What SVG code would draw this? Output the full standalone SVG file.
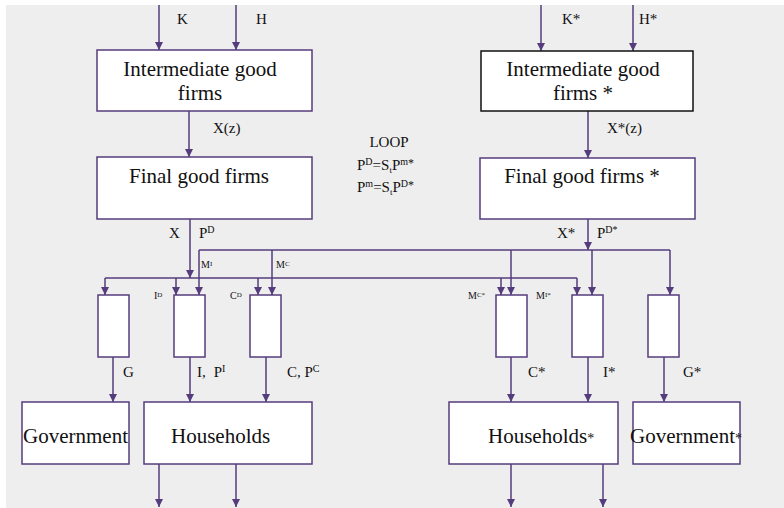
<svg xmlns="http://www.w3.org/2000/svg" width="784" height="508" viewBox="0 0 784 508" font-family="'Liberation Serif', 'DejaVu Serif', serif">
  <style>
    .box { fill: #ffffff; stroke: #553c7c; stroke-width: 1.5; }
    .boxk { fill: #ffffff; stroke: #111111; stroke-width: 1.5; }
    .wire { fill: none; stroke: #553c7c; stroke-width: 1.5; }
    .arr { fill: none; stroke: #553c7c; stroke-width: 1.5; marker-end: url(#ah); }
    text { font-family: 'Liberation Serif', 'DejaVu Serif', serif; fill: #111111; }
    .big { font-size: 21px; }
    .mid { font-size: 15px; }
    .sml { font-size: 10px; }
  </style>
  <defs>
    <marker id="ah" markerWidth="8" markerHeight="8" refX="8" refY="4" orient="auto" markerUnits="userSpaceOnUse">
      <path d="M0,0 L8,4 L0,8 z" fill="#553c7c"/>
    </marker>
  </defs>

  <!-- backdrop -->
  <rect x="6" y="5" width="778" height="503" fill="#eeeeee"/>

  <!-- connectors -->
  <g id="connectors">
    <!-- factor inputs -->
    <line class="arr" x1="159" y1="5" x2="159" y2="50"/>
    <line class="arr" x1="236" y1="5" x2="236" y2="50"/>
    <line class="arr" x1="541" y1="5" x2="541" y2="51"/>
    <line class="arr" x1="633" y1="5" x2="633" y2="51"/>
    <!-- intermediate to final -->
    <line class="arr" x1="189" y1="111" x2="189" y2="157"/>
    <line class="arr" x1="588" y1="111" x2="588" y2="158"/>
    <!-- final goods onto the buses -->
    <line class="arr" x1="190" y1="219" x2="190" y2="278"/>
    <line class="arr" x1="588" y1="219" x2="588" y2="250"/>
    <!-- home bus -->
    <line class="wire" x1="105" y1="278" x2="577" y2="278"/>
    <!-- foreign bus -->
    <line class="wire" x1="199" y1="250" x2="670" y2="250"/>
    <!-- drops from home bus -->
    <line class="arr" x1="105" y1="278" x2="105" y2="295"/>
    <line class="arr" x1="176" y1="278" x2="176" y2="295"/>
    <line class="arr" x1="258" y1="278" x2="258" y2="295"/>
    <line class="arr" x1="501" y1="278" x2="501" y2="295"/>
    <line class="arr" x1="577" y1="278" x2="577" y2="295"/>
    <!-- drops from foreign bus -->
    <line class="arr" x1="199" y1="250" x2="199" y2="295"/>
    <line class="arr" x1="272" y1="250" x2="272" y2="295"/>
    <line class="arr" x1="511" y1="250" x2="511" y2="295"/>
    <line class="arr" x1="592" y1="250" x2="592" y2="295"/>
    <line class="arr" x1="670" y1="250" x2="670" y2="295"/>
    <!-- aggregates to final users -->
    <line class="arr" x1="113" y1="357" x2="113" y2="402"/>
    <line class="arr" x1="190" y1="357" x2="190" y2="402"/>
    <line class="arr" x1="266" y1="357" x2="266" y2="402"/>
    <line class="arr" x1="511" y1="357" x2="511" y2="402"/>
    <line class="arr" x1="588" y1="357" x2="588" y2="402"/>
    <line class="arr" x1="664" y1="357" x2="664" y2="402"/>
    <!-- household outflows -->
    <line class="arr" x1="159" y1="464" x2="159" y2="507"/>
    <line class="arr" x1="236" y1="464" x2="236" y2="507"/>
    <line class="arr" x1="511" y1="464" x2="511" y2="507"/>
    <line class="arr" x1="603" y1="464" x2="603" y2="507"/>
  </g>

  <!-- connector labels -->
  <g id="labels">
    <text class="mid" x="177" y="24">K</text>
    <text class="mid" x="256" y="24">H</text>
    <text class="mid" x="562" y="24">K*</text>
    <text class="mid" x="639" y="24">H*</text>
    <text class="mid" x="213" y="133">X(z)</text>
    <text class="mid" x="607" y="133">X*(z)</text>

    <text class="mid" x="389" y="147" text-anchor="middle">LOOP</text>
    <text class="mid" x="357" y="170">P<tspan font-size="10" dy="-5">D</tspan><tspan dy="5">=S</tspan><tspan font-size="9" dy="3">t</tspan><tspan dy="-3">P</tspan><tspan font-size="10" dy="-5">m</tspan><tspan font-size="12" dy="2">*</tspan></text>
    <text class="mid" x="357" y="192">P<tspan font-size="10" dy="-5">m</tspan><tspan dy="5">=S</tspan><tspan font-size="9" dy="3">t</tspan><tspan dy="-3">P</tspan><tspan font-size="10" dy="-5">D</tspan><tspan font-size="12" dy="2">*</tspan></text>

    <text class="mid" x="169" y="238">X</text>
    <text class="mid" x="199" y="238">P<tspan font-size="10" dy="-5">D</tspan></text>
    <text class="mid" x="557" y="238">X*</text>
    <text class="mid" x="597" y="238">P<tspan font-size="10" dy="-5">D*</tspan></text>

    <text class="sml" x="201" y="268">M<tspan font-size="7" dy="-2">I</tspan></text>
    <text class="sml" x="276" y="268">M<tspan font-size="7" dy="-2">C</tspan></text>
    <text class="sml" x="154" y="299">I<tspan font-size="7" dy="-2">D</tspan></text>
    <text class="sml" x="230" y="299">C<tspan font-size="7" dy="-2">D</tspan></text>
    <text class="sml" x="468" y="299">M<tspan font-size="7" dy="-2">C*</tspan></text>
    <text class="sml" x="536" y="299">M<tspan font-size="7" dy="-2">I*</tspan></text>

    <text class="mid" x="123" y="377">G</text>
    <text class="mid" x="197" y="377">I,<tspan dx="8">P</tspan><tspan font-size="10" dy="-5">I</tspan></text>
    <text class="mid" x="287" y="377">C, P<tspan font-size="10" dy="-5">C</tspan></text>
    <text class="mid" x="528" y="377">C*</text>
    <text class="mid" x="603" y="377">I*</text>
    <text class="mid" x="683" y="377">G*</text>
  </g>

  <!-- home production -->
  <g id="intermediate-home">
    <rect class="box" x="97" y="50" width="215" height="61"/>
    <text class="big" x="200" y="76" text-anchor="middle">Intermediate good</text>
    <text class="big" x="200" y="100" text-anchor="middle">firms</text>
  </g>
  <g id="final-home">
    <rect class="box" x="97" y="157" width="215" height="62"/>
    <text class="big" x="199" y="183" text-anchor="middle">Final good firms</text>
  </g>

  <!-- foreign production -->
  <g id="intermediate-foreign">
    <rect class="boxk" x="481" y="51" width="212" height="60"/>
    <text class="big" x="583" y="76" text-anchor="middle">Intermediate good</text>
    <text class="big" x="583" y="100" text-anchor="middle">firms *</text>
  </g>
  <g id="final-foreign">
    <rect class="box" x="480" y="158" width="215" height="61"/>
    <text class="big" x="582" y="183" text-anchor="middle">Final good firms *</text>
  </g>

  <!-- demand aggregators -->
  <g id="agg-g"><rect class="box" x="98" y="295" width="31" height="62"/></g>
  <g id="agg-i"><rect class="box" x="174" y="295" width="31" height="62"/></g>
  <g id="agg-c"><rect class="box" x="250" y="295" width="31" height="62"/></g>
  <g id="agg-c-star"><rect class="box" x="496" y="295" width="31" height="62"/></g>
  <g id="agg-i-star"><rect class="box" x="572" y="295" width="31" height="62"/></g>
  <g id="agg-g-star"><rect class="box" x="648" y="295" width="31" height="62"/></g>

  <!-- final users -->
  <g id="government">
    <rect class="box" x="22" y="402" width="107" height="62"/>
    <text class="big" x="23" y="443">Government</text>
  </g>
  <g id="households">
    <rect class="box" x="144" y="402" width="168" height="62"/>
    <text class="big" x="171" y="443">Households</text>
  </g>
  <g id="households-star">
    <rect class="box" x="449" y="402" width="169" height="62"/>
    <text class="big" x="488" y="443">Households<tspan font-size="14">*</tspan></text>
  </g>
  <g id="government-star">
    <rect class="box" x="633" y="402" width="107" height="62"/>
    <text class="big" x="630" y="443">Government<tspan font-size="14">*</tspan></text>
  </g>
</svg>
